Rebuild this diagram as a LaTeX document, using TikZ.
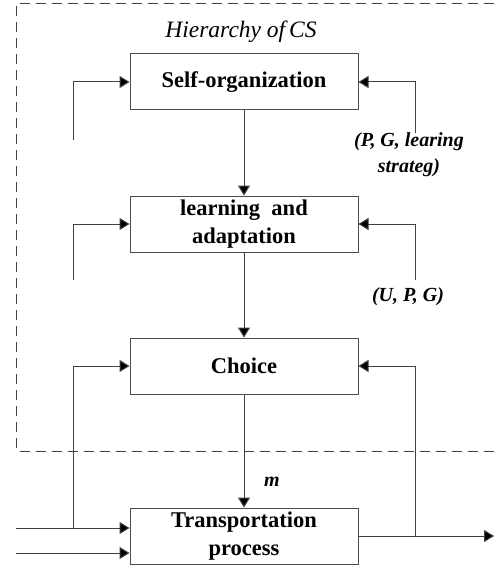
\documentclass[tikz,border=0pt]{standalone}
\usepackage{fontspec}
\setmainfont{Liberation Serif}
\usetikzlibrary{arrows.meta}

\tikzset{
  blk/.style={draw=black!70,line width=1pt,minimum width=228pt,minimum height=56pt,
    inner sep=0pt,align=center,font=\fontsize{22.5}{28}\selectfont\bfseries},
  lbl/.style={font=\fontsize{20}{26}\selectfont\bfseries\itshape,align=center,inner sep=0pt}
}

\begin{document}
\begin{tikzpicture}[x=1pt,y=-1pt,line width=1pt,draw=black!75,>={Triangle[length=10pt,width=12pt,fill=black]}]
  \useasboundingbox (0,0) rectangle (494,567);
  % marco de la jerarquia
  \draw[dash pattern=on 10pt off 6pt] (494,3.5)--(16.5,3.5)--(16.5,451)--(494,451);
  \node[font=\fontsize{23.5}{28}\selectfont\itshape] (hier) at (241,32) {Hierarchy of\kern-2pt\ CS};
  % bloques
  \node[blk] (self) at (244,82) {Self-organization};
  \node[blk] (learn) at (244,224) {learning\ \ and\\adaptation};
  \node[blk] (choice) at (244,366) {Choice};
  \node[blk] (trans) at (244,536) {Transportation\\process};
  % flechas verticales
  \draw[->] (self.south)--(learn.north);
  \draw[->] (learn.south)--(choice.north);
  \draw[->] (choice.south)--(trans.north);
  \node[lbl] (m) at (272,482) {m};
  % entradas y salida
  \coordinate (in1) at (16,528);
  \coordinate (in2) at (16,553);
  \coordinate (jl) at (73,528);
  \coordinate (jr) at (415,536);
  \coordinate (out) at (494,536);
  \draw[->] (in1)--(trans.west |- in1);
  \draw[->] (in2)--(trans.west |- in2);
  \draw[->] (trans.east)--(out);
  % realimentacion izquierda
  \coordinate (l1) at (73,140);
  \coordinate (l2) at (73,280);
  \draw[->] (l1) |- (self.west);
  \draw[->] (l2) |- (learn.west);
  \draw[->] (jl) |- (choice.west);
  % realimentacion derecha
  \coordinate (r1) at (415,133);
  \coordinate (r2) at (415,280);
  \draw[->] (r1) |- (self.east);
  \draw[->] (r2) |- (learn.east);
  \draw[->] (jr) |- (choice.east);
  \node[lbl] (pg) at (409,155) {(P, G, learing\\strateg)};
  \node[lbl] (upg) at (408,297) {(U, P, G)};
\end{tikzpicture}
\end{document}
